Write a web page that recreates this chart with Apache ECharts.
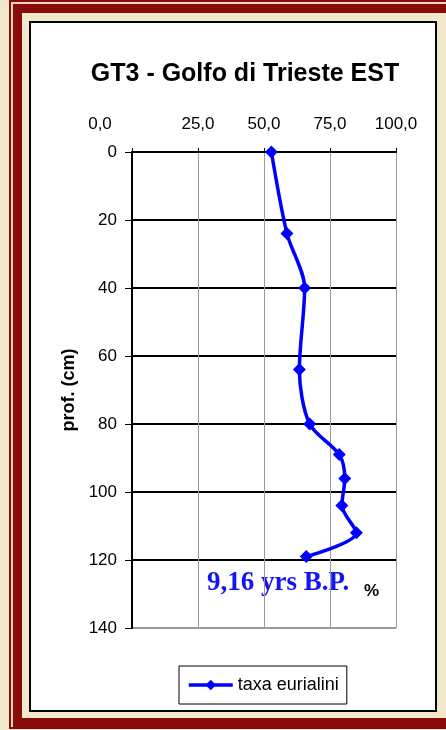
<!DOCTYPE html>
<html>
<head>
<meta charset="utf-8">
<script src="https://cdn.jsdelivr.net/npm/echarts@6/dist/echarts.min.js"></script>
<style>
html,body{margin:0;padding:0;width:446px;height:730px;overflow:hidden;background:#F2E8CB;}
.f{position:absolute;box-sizing:border-box;}
#thin{left:9px;top:0px;width:600px;height:729px;border:2px solid #8B0A0A;}
#thick{left:13px;top:4px;width:600px;height:723px;border:9px solid #8B0A0A;}
#stripe{left:11px;top:2px;width:600px;height:727px;border:2px solid #EDD9BC;}
#panel{left:29px;top:21px;width:408px;height:691px;border:2px solid #000;background:#fff;}
#chart{position:absolute;left:0;top:0;width:446px;height:730px;}
</style>
</head>
<body>
<div class="f" id="stripe"></div>
<div class="f" id="thin"></div>
<div class="f" id="thick"></div>
<div class="f" id="panel"></div>
<div id="chart"></div>
<script>
// Data
const seriesName = 'taxa eurialini';
const percent = [52.8, 58.7, 65.4, 63.4, 67.3, 78.5, 80.6, 79.5, 85.0, 66.0];
const depth   = [0, 24, 40, 64, 80, 89, 96, 104, 112, 119];
const xTicks = [0, 25, 50, 75, 100];
const yTicks = [0, 20, 40, 60, 80, 100, 120, 140];
const titleText = 'GT3 - Golfo di Trieste EST';
const yName = 'prof. (cm)';
const ageNote = '9,16 yrs B.P.';
const unitNote = '%';

const chart = echarts.init(document.getElementById('chart'), null, {renderer: 'canvas'});
const ySplitColors = yTicks.map((v, i) => i === yTicks.length - 1 ? '#999999' : '#000000');

const option = {
  backgroundColor: 'transparent',
  animation: false,
  textStyle: {fontFamily: 'Liberation Sans'},
  graphic: [
    {type: 'text', x: 245, y: 74, style: {text: titleText, font: 'bold 25px "Liberation Sans"', fill: '#000', align: 'center', verticalAlign: 'middle'}},
    {type: 'text', x: 207, y: 583, style: {text: ageNote, font: 'bold 27px "Liberation Serif"', fill: '#1515F0', align: 'left', verticalAlign: 'middle'}},
    {type: 'text', x: 364, y: 591, style: {text: unitNote, font: 'bold 17px "Liberation Sans"', fill: '#000', align: 'left', verticalAlign: 'middle'}}
  ],
  grid: {left: 132, right: 50, top: 152, bottom: 102, containLabel: false},
  xAxis: {
    type: 'value', position: 'top',
    min: xTicks[0], max: xTicks[xTicks.length - 1], interval: 25,
    axisLine: {show: true, lineStyle: {color: '#000', width: 2}},
    axisTick: {show: true, length: 4, lineStyle: {color: '#000', width: 1}},
    axisLabel: {
      margin: 19, fontSize: 17, color: '#000', fontFamily: 'Liberation Sans',
      formatter: v => v === 0 ? '{m|0,0}' : v.toFixed(1).replace('.', ','),
      rich: {m: {fontSize: 17, color: '#000', fontFamily: 'Liberation Sans', padding: [0, 64, 0, 0]}}
    },
    splitLine: {show: true, lineStyle: {color: '#9a9a9a', width: 1}}
  },
  yAxis: {
    type: 'value', inverse: true,
    min: yTicks[0], max: yTicks[yTicks.length - 1], interval: 20,
    name: yName, nameLocation: 'middle', nameGap: 53, nameRotate: 90,
    nameTextStyle: {fontFamily: 'Liberation Sans', fontSize: 18, fontWeight: 'bold', color: '#000'},
    axisLine: {show: true, lineStyle: {color: '#000', width: 2}},
    axisTick: {show: true, length: 7, lineStyle: {color: '#000', width: 1}},
    axisLabel: {margin: 15, fontSize: 17, color: '#000', fontFamily: 'Liberation Sans'},
    splitLine: {show: true, lineStyle: {color: ySplitColors, width: 2}}
  },
  legend: {
    left: 179, top: 666,
    orient: 'horizontal',
    borderColor: '#000', borderWidth: 1, borderRadius: 0,
    padding: [10, 8, 10, 8],
    itemWidth: 44, itemHeight: 13,
    lineStyle: {width: 3.5},
    textStyle: {fontFamily: 'Liberation Sans', fontSize: 18, color: '#000'},
    data: [seriesName]
  },
  series: [{
    name: seriesName,
    type: 'line',
    data: percent.map((p, i) => [p, depth[i]]),
    smooth: 0.3,
    symbol: 'diamond', symbolSize: 13,
    lineStyle: {color: '#0000FF', width: 3.5},
    itemStyle: {color: '#0000FF'},
    z: 5
  }]
};
chart.setOption(option);
</script>
</body>
</html>
